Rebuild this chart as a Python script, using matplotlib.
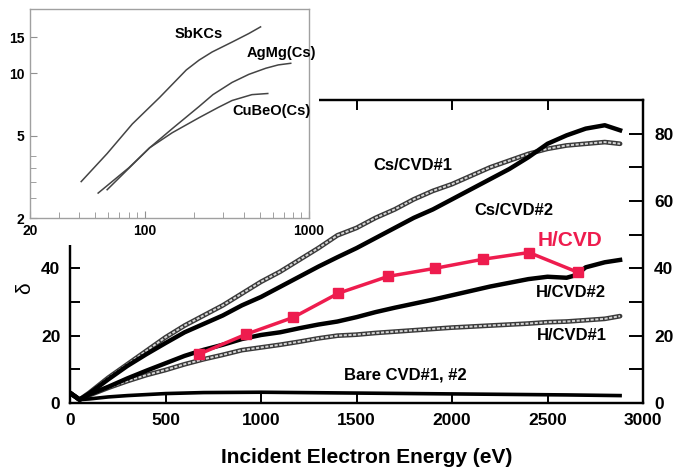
import matplotlib
matplotlib.use("Agg")
import matplotlib.pyplot as plt
from matplotlib.patches import Rectangle
from matplotlib.ticker import NullFormatter, FixedLocator

plt.rcParams['font.family'] = ['Liberation Sans', 'DejaVu Sans']

# main panel: yield vs incident electron energy
energy = [0, 50, 100, 200, 300, 400, 500, 600, 700, 800, 900, 1000, 1100, 1200,
          1300, 1400, 1500, 1600, 1700, 1800, 1900, 2000, 2100, 2200, 2300, 2400,
          2500, 2600, 2700, 2800, 2880]
cs_cvd1 = [3, 1, 3, 7.5, 11.5, 15.5, 19.5, 23, 26, 29, 32.5, 36, 39, 42.5, 46, 49.8,
           52, 55, 57.5, 60.5, 63, 65, 67.5, 70, 72, 74, 75.5, 76.5, 77, 77.5, 77]
cs_cvd2 = [3, 1, 2.8, 7, 11, 14.5, 17.8, 21, 23.5, 26, 29, 31.5, 34.5, 37.5, 40.5,
           43.3, 46, 49, 52, 55, 57.5, 60.5, 63.5, 66.5, 69.5, 73, 77, 79.5, 81.5,
           82.5, 81]
h_cvd1 = [3, 1, 2.3, 4.5, 6.5, 8.3, 9.8, 11.5, 13, 14.3, 15.7, 16.5, 17.3, 18.2,
          19.2, 20, 20.3, 20.8, 21.2, 21.6, 22, 22.4, 22.7, 23, 23.3, 23.6, 24,
          24.2, 24.6, 25, 25.8]
h_cvd2_e = [0, 50, 100, 200, 300, 400, 500, 600, 700, 800, 900, 1000, 1100, 1200,
            1300, 1400, 1500, 1600, 1700, 1800, 1900, 2000, 2100, 2200, 2300, 2400,
            2500, 2600, 2650, 2700, 2800, 2880]
h_cvd2 = [3, 1, 2.5, 4.8, 7.3, 9.6, 11.8, 14, 15.8, 17.3, 19, 20.2, 21, 22.2, 23.3,
          24.2, 25.5, 27, 28.3, 29.5, 30.7, 32, 33.3, 34.6, 35.7, 36.8, 37.5, 37.2,
          38, 40.3, 41.8, 42.5]
bare_e = [0, 50, 100, 200, 300, 400, 500, 700, 1000, 1400, 1800, 2200, 2600, 2880]
bare = [3, 1, 1.2, 1.8, 2.2, 2.5, 2.8, 3.1, 3.2, 3.0, 2.8, 2.6, 2.4, 2.2]
hcvd_e = [675, 921, 1168, 1405, 1665, 1911, 2162, 2403, 2660]
hcvd = [14.5, 20.4, 25.4, 32.6, 37.6, 40.0, 42.7, 44.7, 38.8]

# inset: reference materials (log-log)
sbkcs_e = [41, 59, 84, 123, 148, 179, 214, 257, 341, 430, 507]
sbkcs = [3.0, 4.1, 5.7, 7.65, 8.9, 10.4, 11.6, 12.7, 14.2, 15.6, 16.8]
agmg_e = [59, 107, 147, 214, 260, 340, 430, 546, 650, 774]
agmg = [2.74, 4.37, 5.41, 6.92, 7.9, 9.05, 9.9, 10.6, 11.0, 11.2]
cubeo_e = [52, 80, 107, 147, 214, 280, 340, 449, 561]
cubeo = [2.64, 3.5, 4.37, 5.17, 6.11, 6.85, 7.4, 7.9, 8.0]

red = '#ee1c4e'
W, H = 675, 469
fig = plt.figure(figsize=(W / 100, H / 100), dpi=100)

ax = fig.add_axes([70 / W, 1 - 403 / H, 573 / W, 303 / H])
ax.set_zorder(1)

def gray_curve(x, y):
    # open-circle chains: dark rim with a light, broken core
    ax.plot(x, y, color='#3a3a3a', lw=3.4, solid_capstyle='round', zorder=3)
    ax.plot(x, y, color='#d4d4d4', lw=1.4, dashes=(1.6, 0.8), zorder=3.1)

gray_curve(energy, cs_cvd1)
ax.plot(energy, cs_cvd2, color='black', lw=3.2, zorder=4)
gray_curve(energy, h_cvd1)
ax.plot(h_cvd2_e, h_cvd2, color='black', lw=3.2, zorder=4)
ax.plot(bare_e, bare, color='black', lw=2.6, zorder=4)
ax.plot(hcvd_e, hcvd, color=red, lw=2.5, marker='s', ms=7.5, zorder=5)

ax.set_xlim(0, 3000)
ax.set_ylim(0, 90)
ax.set_xticks([0, 500, 1000, 1500, 2000, 2500, 3000])
ax.set_yticks([0, 20, 40])
ax.set_yticks([10, 30], minor=True)
for s in ax.spines.values():
    s.set_linewidth(1.6)
ax.tick_params(which='both', direction='in', length=7, width=1.4, top=True,
               labelsize=12.5, pad=7)
for lab in ax.get_xticklabels() + ax.get_yticklabels():
    lab.set_fontweight('bold')

ax2 = ax.twinx()
ax2.set_zorder(1)
ax2.set_ylim(0, 90)
ax2.set_yticks([0, 20, 40, 60, 80])
ax2.set_yticks([10, 30, 50, 70], minor=True)
ax2.tick_params(which='both', direction='in', length=10, width=1.4,
                labelsize=12.5, pad=8)
for lab in ax2.get_yticklabels():
    lab.set_fontweight('bold')
for s in ax2.spines.values():
    s.set_linewidth(1.6)

lbl = dict(fontsize=12, fontweight='bold', ha='center', va='center', zorder=6)
ax.text(1796, 70.5, 'Cs/CVD#1', **lbl)
ax.text(2325, 57.2, 'Cs/CVD#2', **lbl)
ax.text(2623, 32.9, 'H/CVD#2', **lbl)
ax.text(2628, 20.1, 'H/CVD#1', **lbl)
ax.text(1754, 8.3, 'Bare CVD#1, #2', **lbl)
ax.text(2618, 48.3, 'H/CVD', fontsize=15, fontweight='bold', color=red,
        ha='center', va='center', zorder=6)

fig.text(367 / W, 1 - 463 / H, 'Incident Electron Energy (eV)', fontsize=15,
         fontweight='bold', ha='center', va='baseline')
fig.text(25 / W, 1 - 288 / H, 'δ', fontsize=15, rotation=90,
         ha='center', va='center')

# white area behind the inset hides the upper-left of the main frame
fig.add_artist(Rectangle((0, 1 - 245 / H), 319 / W, 245 / H,
                         transform=fig.transFigure, facecolor='white',
                         edgecolor='none', zorder=2))

ins = fig.add_axes([30 / W, 1 - 218 / H, 279 / W, 209 / H])
ins.set_zorder(3)
ins.plot(sbkcs_e, sbkcs, color='#444444', lw=1.1)
ins.plot(agmg_e, agmg, color='#444444', lw=1.1)
ins.plot(cubeo_e, cubeo, color='#444444', lw=1.1)
ins.set_xscale('log')
ins.set_yscale('log')
ins.set_xlim(20, 1000)
ins.set_ylim(2, 20.5)
ins.xaxis.set_major_locator(FixedLocator([20, 100, 1000]))
ins.xaxis.set_minor_locator(FixedLocator([30, 40, 50, 60, 70, 80, 90, 200, 300,
                                          400, 500, 600, 700, 800, 900]))
ins.set_xticklabels(['20', '100', '1000'])
ins.yaxis.set_major_locator(FixedLocator([2, 5, 10, 15]))
ins.yaxis.set_minor_locator(FixedLocator([2.5, 3, 3.5, 4]))
ins.set_yticklabels(['2', '5', '10', '15'])
ins.xaxis.set_minor_formatter(NullFormatter())
ins.yaxis.set_minor_formatter(NullFormatter())
for s in ins.spines.values():
    s.set_color('#a0a0a0')
    s.set_linewidth(1.0)
ins.tick_params(which='both', direction='in', color='#909090', labelsize=10,
                pad=4)
ins.tick_params(which='major', length=5)
ins.tick_params(which='minor', length=4)
for lab in ins.get_xticklabels() + ins.get_yticklabels():
    lab.set_fontweight('bold')

ilbl = dict(fontsize=10.5, fontweight='bold', ha='center', va='center')
ins.text(214, 15.6, 'SbKCs', **ilbl)
ins.text(683, 12.6, 'AgMg(Cs)', **ilbl)
ins.text(594, 6.6, 'CuBeO(Cs)', **ilbl)

fig.savefig('out.png', dpi=100)
